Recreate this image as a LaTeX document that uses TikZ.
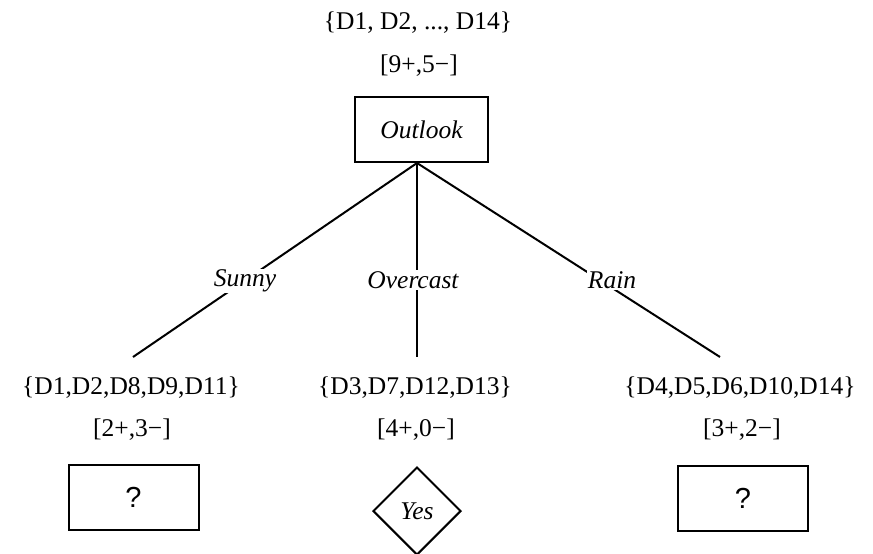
\documentclass[tikz,border=0pt]{standalone}
\usepackage{fontspec}
\setmainfont{Liberation Serif}
\setsansfont{Liberation Sans}
\usetikzlibrary{shapes.geometric}
\begin{document}
\begin{tikzpicture}[x=1pt, y=-1pt,
  txt/.style={inner sep=0pt, font=\fontsize{25.5}{30}\selectfont},
  lbl/.style={inner sep=1pt, fill=white, font=\fontsize{25.5}{30}\selectfont\itshape},
  attr/.style={draw, line width=2pt, minimum width=133pt, minimum height=65pt, inner sep=0pt, font=\fontsize{25.5}{30}\selectfont\itshape},
  leaf/.style={draw, line width=2pt, minimum width=130pt, minimum height=65pt, inner sep=0pt, font=\fontsize{29}{34}\selectfont\sffamily},
  yesleaf/.style={draw, diamond, aspect=1, line width=2pt, minimum width=88pt, minimum height=88pt, inner sep=0pt, font=\fontsize{25.5}{30}\selectfont\itshape}]
\useasboundingbox (0,0) rectangle (873,554);
\node[txt] (rootset) at (418,23){\{D1, D2, ..., D14\}};
\node[txt] (rootcnt) at (419,66){[9+,5−]};
\node[attr] (outlook) at (421.5,129.5){Outlook};
\coordinate (split) at ([xshift=-4.5pt]outlook.south);
\coordinate (sunnyend) at (133,357);
\coordinate (overend) at (417,357);
\coordinate (rainend) at (720,357);
\draw[line width=2pt](split) -- (sunnyend);
\draw[line width=2pt](split) -- (overend);
\draw[line width=2pt](split) -- (rainend);
\node[lbl] (sunny) at (245,281){Sunny};
\node[lbl] (overcast) at (413,280){Overcast};
\node[lbl] (rain) at (612,280){Rain};
\node[txt] (sunnyset) at (131,388){\{D1,D2,D8,D9,D11\}};
\node[txt] (sunnycnt) at (132,430){[2+,3−]};
\node[leaf] (sunnyleaf) at (133.5,497.5){?};
\node[txt] (overset) at (415,388){\{D3,D7,D12,D13\}};
\node[txt] (overcnt) at (416,430){[4+,0−]};
\node[yesleaf] (yes) at (417,511){Yes};
\node[txt] (rainset) at (740,388){\{D4,D5,D6,D10,D14\}};
\node[txt] (raincnt) at (742,430){[3+,2−]};
\node[leaf] (rainleaf) at (743,498){?};
\end{tikzpicture}
\end{document}
